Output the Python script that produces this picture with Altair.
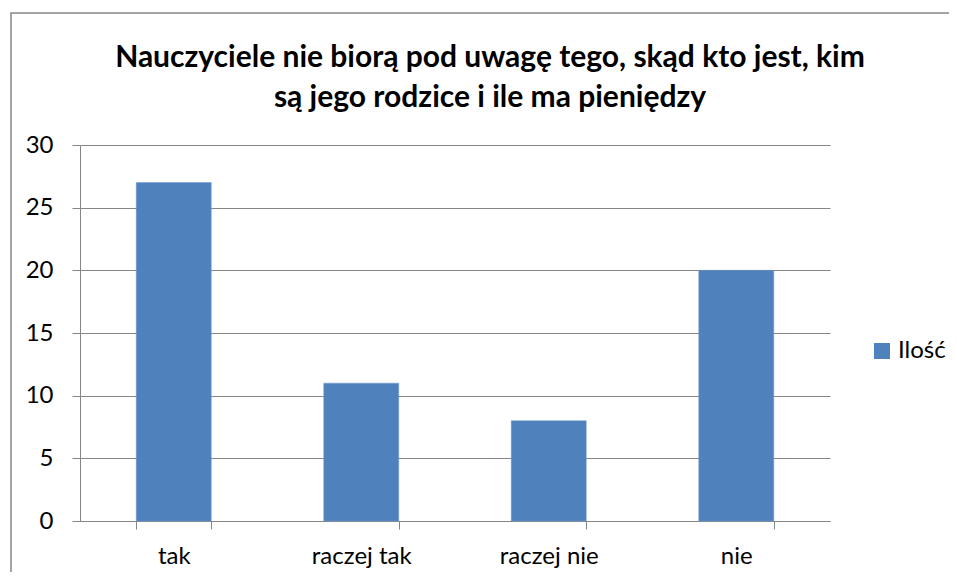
import altair as alt
import pandas as pd

categories = ["tak", "raczej tak", "raczej nie", "nie"]
values = [27, 11, 8, 20]
series_name = "Ilość"
title_lines = ["Nauczyciele nie biorą pod uwagę tego, skąd kto jest, kim",
               "są jego rodzice i ile ma pieniędzy"]
y_ticks = [0, 5, 10, 15, 20, 25, 30]

df = pd.DataFrame({"kategoria": categories, "wartosc": values, "seria": [series_name] * len(categories)})

FONT = "Lato"
GRAY = "#868686"
LBL = 24

bars = alt.Chart(df).mark_bar(color="#4F81BD", stroke="#6A9BD6", strokeWidth=0.5).encode(
    x=alt.X("kategoria:N", sort=categories, title=None,
            scale=alt.Scale(paddingInner=0.6, paddingOuter=0.3),
            axis=alt.Axis(labelAngle=0, tickBand="extent", tickSize=8, labelPadding=15,
                          domainColor=GRAY, tickColor=GRAY, labelFontSize=LBL, labelFont=FONT,
                          labelColor="#000000")),
    y=alt.Y("wartosc:Q", title=None, scale=alt.Scale(domain=[0, 30], nice=False),
            axis=alt.Axis(values=y_ticks, tickSize=8, labelPadding=19, grid=True, gridColor=GRAY,
                          gridWidth=1.2, domainColor=GRAY, tickColor=GRAY, labelFontSize=LBL,
                          labelFont=FONT, labelColor="#000000")),
    color=alt.Color("seria:N", scale=alt.Scale(range=["#4F81BD"]),
                    legend=alt.Legend(title=None, orient="none", legendX=790, legendY=194,
                                      symbolType="square", symbolSize=256, symbolStrokeWidth=0,
                                      labelFontSize=LBL, labelFont=FONT, labelColor="#000000")),
)

frame = alt.Chart(alt.Data(values=[{"a": 1}])).mark_rect(
    fillOpacity=0, stroke=GRAY, strokeWidth=1.5
).encode(x=alt.value(-69), x2=alt.value(1000), y=alt.value(-132), y2=alt.value(500))

title1 = alt.Chart(alt.Data(values=[{"t": title_lines[0]}])).mark_text(
    font=FONT, fontSize=30, fontWeight="bold", color="#000000", align="center", baseline="alphabetic"
).encode(text="t:N", x=alt.value(410), y=alt.value(-78))
title2 = alt.Chart(alt.Data(values=[{"t": title_lines[1]}])).mark_text(
    font=FONT, fontSize=30, fontWeight="bold", color="#000000", align="center", baseline="alphabetic"
).encode(text="t:N", x=alt.value(410), y=alt.value(-38))

chart = alt.layer(frame, bars, title1, title2).properties(
    width=750, height=376,
    padding={"left": 72, "top": 137, "right": 119, "bottom": 51},
    autosize=alt.AutoSizeParams(type="none"),
).configure_view(stroke=None)

chart.save("out.html", embed_options={"renderer": "svg", "actions": False})
